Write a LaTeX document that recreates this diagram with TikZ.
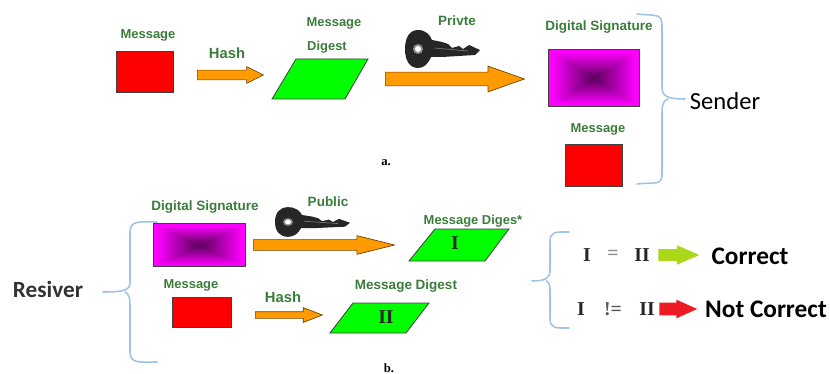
\documentclass[tikz,border=0pt]{standalone}
\usepackage{fontspec}
\setmainfont{Liberation Sans}
\newfontfamily\calibrifont{Carlito}
\newfontfamily\timesfont{Liberation Serif}
\usetikzlibrary{shapes.arrows}

\definecolor{labelgreen}{HTML}{3A7D3A}
\definecolor{arroworange}{HTML}{FF9A00}
\definecolor{bracecolor}{HTML}{9DC3E6}
\definecolor{okgreen}{HTML}{A9D818}
\definecolor{badred}{HTML}{ED1C24}

\pgfdeclarefunctionalshading{sigshade}{\pgfpoint{-50bp}{-50bp}}{\pgfpoint{50bp}{50bp}}{}{
  abs exch abs 2 copy lt {exch} if pop 23 div dup 1 gt {pop 1} if
  dup 0.65 mul 0.35 add exch dup 0 mul exch 0.65 mul 0.35 add
}

\tikzset{
  greenlabel/.style={text=labelgreen, inner sep=0pt, font=\bfseries\fontsize{9.2}{11}\selectfont},
  biglabel/.style={greenlabel, font=\bfseries\fontsize{9.6}{11}\selectfont},
  hashlabel/.style={greenlabel, font=\bfseries\fontsize{10.5}{12}\selectfont},
  sidetext/.style={inner sep=0pt, font=\calibrifont\fontsize{17.5}{20}\selectfont},
  resulttext/.style={inner sep=0pt, font=\calibrifont\bfseries\fontsize{18}{20}\selectfont},
  serifmark/.style={inner sep=0pt, text=black!85, font=\timesfont\bfseries\fontsize{14}{16}\selectfont},
  captiontext/.style={inner sep=0pt, font=\timesfont\bfseries\fontsize{9}{11}\selectfont},
  redbox/.style={rectangle, draw=black!75, line width=0.7pt, fill=red, anchor=north west},
  sigbox/.style={rectangle, draw=black!75, line width=0.7pt, shading=sigshade, anchor=north west},
  digestbox/.style={draw=black!75, line width=0.6pt, fill=green},
  blockarrow/.style={single arrow, draw=black!55!arroworange, line width=0.5pt, fill=arroworange, inner xsep=0pt, anchor=tail, single arrow head indent=0pt},
  flatarrow/.style={single arrow, fill=#1, inner xsep=0pt, anchor=tail, single arrow head indent=0pt},
  bracket/.style={draw=bracecolor, line width=1.1pt, line cap=round},
  keyicon/.pic={
    \fill[black!85] (-13,0) .. controls (-13,-12) and (-8,-19) .. (0,-19) .. controls (8,-19) and (12,-14) .. (14,-9)
      -- (24,-7) -- (30,-5) -- (34,-1) -- (41,-3) -- (45,0) -- (51,-4) -- (62,1) -- (57,6) -- (24,8) -- (13,8)
      .. controls (10,15) and (6,19) .. (0,19) .. controls (-8,19) and (-13,12) .. (-13,0) -- cycle;
    \draw[black!55, line width=0.5pt] (16,-1) -- (50,2);
    \fill[black!45] (0,0) circle (5);
    \fill[white] (0,0) circle (3);
  }
}

\begin{document}
\begin{tikzpicture}[x=0.025cm, y=-0.025cm]
\useasboundingbox (0,0) rectangle (830,374);

% sender
\node at (148,35) [greenlabel] (msgtopa) {Message};
\node at (116,51) [redbox, minimum width=1.425cm, minimum height=1.025cm] (redtopa) {};
\node at (227,53) [hashlabel] (hashtop) {Hash};
\node at (197,75) [blockarrow, minimum height=1.65cm, inner ysep=0.1125cm, single arrow head extend=0.0875cm, single arrow tip angle=53] (hasharrowtop) {};
\draw[digestbox] (272,99) -- (296,59) -- (368,59) -- (345,99) -- cycle;
\node at (334,23) [greenlabel] (digesttopa) {Message};
\node at (327,47) [greenlabel] (digesttopb) {Digest};
\pic at (418,49) {keyicon};
\node at (457,21) [biglabel] (privte) {Privte};
\node at (385,79) [blockarrow, minimum height=3.475cm, inner ysep=0.1625cm, single arrow head extend=0.15cm, single arrow tip angle=39] (keyarrowtop) {};
\node at (599,27) [biglabel] (sigtoplabel) {Digital Signature};
\node at (548,49) [sigbox, minimum width=2.275cm, minimum height=1.425cm] (sigtop) {};
\node at (598,129) [greenlabel] (msgtopb) {Message};
\node at (565,144) [redbox, minimum width=1.425cm, minimum height=1.05cm] (redtopb) {};
\draw[bracket] (637,14) .. controls (655,16) and (662,13) .. (662,25) -- (662,86) .. controls (662,96) and (666,99) .. (685,99);
\draw[bracket] (668,99) .. controls (664,100) and (662,104) .. (662,112) -- (662,174) .. controls (662,186) and (655,182) .. (637,184);
\node at (725,101) [sidetext] (sender) {Sender};
\node at (386,163) [captiontext] (capa) {a.};

% receiver
\node at (205,207) [biglabel] (sigbotlabel) {Digital Signature};
\node at (153,223) [sigbox, minimum width=2.3cm, minimum height=1.075cm] (sigbot) {};
\draw[bracket] (157,222) .. controls (140,222) and (130,220) .. (130,232) -- (130,282) .. controls (130,290) and (125,292) .. (103,292);
\draw[bracket] (125,292) .. controls (129,294) and (130,298) .. (130,304) -- (130,352) .. controls (130,364) and (140,362) .. (157,362);
\node at (48,289) [sidetext, text=black!80, font=\calibrifont\bfseries\fontsize{16.5}{20}\selectfont] (resiver) {Resiver};
\node at (191,285) [greenlabel] (msgbot) {Message};
\node at (172,297) [redbox, minimum width=1.475cm, minimum height=0.75cm] (redbot) {};
\pic[yscale=0.78] at (288,222) {keyicon};
\node at (328,202) [biglabel] (public) {Public};
\node at (253,245) [blockarrow, minimum height=3.525cm, inner ysep=0.125cm, single arrow head extend=0.1cm, single arrow tip angle=28] (keyarrowbot) {};
\node at (473,221) [greenlabel] (digestbotalabel) {Message Diges*};
\draw[digestbox] (409,261) -- (435,229) -- (509,229) -- (485,261) -- cycle;
\node at (455,243) [serifmark] (markone) {I};
\node at (283,297) [hashlabel] (hashbot) {Hash};
\node at (255,315) [blockarrow, minimum height=1.675cm, inner ysep=0.075cm, single arrow head extend=0.1cm, single arrow tip angle=42] (hasharrowbot) {};
\node at (406,286) [biglabel] (digestbotblabel) {Message Digest};
\draw[digestbox] (330,333) -- (353,303) -- (429,303) -- (406,333) -- cycle;
\node at (386,317) [serifmark] (marktwo) {II};

% result
\draw[bracket] (569,232) .. controls (556,232) and (550,231) .. (550,242) -- (550,270) .. controls (550,278) and (546,281) .. (532,281);
\draw[bracket] (546,281) .. controls (549,282) and (550,285) .. (550,290) -- (550,318) .. controls (550,329) and (556,328) .. (569,328);
\node at (587,255) [serifmark] (rowaleft) {I};
\node at (613,255) [serifmark, text=black!45] (rowaeq) {=};
\node at (642,255) [serifmark] (rowaright) {II};
\node at (658,255) [flatarrow=okgreen, minimum height=1.025cm, inner ysep=0.1375cm, single arrow head extend=0.1cm, single arrow tip angle=47] (okarrow) {};
\node at (750,256) [resulttext] (correct) {Correct};
\node at (581,309) [serifmark] (rowbleft) {I};
\node at (613,309) [serifmark, text=black!65] (rowbneq) {!=};
\node at (647,309) [serifmark] (rowbright) {II};
\node at (659,309) [flatarrow=badred, minimum height=0.95cm, inner ysep=0.15cm, single arrow head extend=0.075cm, single arrow tip angle=48] (badarrow) {};
\node at (766,309) [resulttext] (notcorrect) {Not Correct};
\node at (389,368) [captiontext] (capb) {b.};

\end{tikzpicture}
\end{document}
